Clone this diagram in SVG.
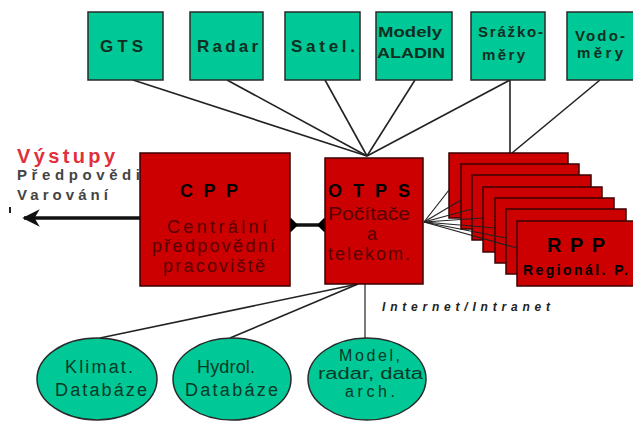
<svg xmlns="http://www.w3.org/2000/svg" width="633" height="421" viewBox="0 0 633 421">
<style>
  .g { fill:#00c896; stroke:#2a2a2a; stroke-width:1.5; }
  .r { fill:#cc0000; stroke:#3a0000; stroke-width:1.5; }
  .ln { stroke:#222; stroke-width:1.6; fill:none; }
  .ln1 { stroke:#222; stroke-width:1.2; fill:none; }
  .t { font-family:"Liberation Sans", Arial, sans-serif; font-weight:bold; }
  .tg { fill:#0e2f22; }
  .tk { fill:#000; }
  .dr { fill:#560000; font-weight:normal; }
  .tn { font-family:"Liberation Sans", Arial, sans-serif; fill:#063a26; }
</style>
<defs>
  <marker id="dia" viewBox="0 0 10 10" refX="5" refY="5" markerWidth="4" markerHeight="4" orient="auto">
    <path d="M0,5 L5,0 L10,5 L5,10 Z" fill="#000"/>
  </marker>
  <marker id="arr" viewBox="0 0 10 10" refX="9" refY="5" markerWidth="7" markerHeight="5" orient="auto" markerUnits="strokeWidth">
    <path d="M0,0 L10,5 L0,10 L3,5 Z" fill="#111"/>
  </marker>
</defs>
<rect width="633" height="421" fill="#ffffff"/>

<g id="connectors">
  <line class="ln" x1="133" y1="80" x2="367" y2="156"/>
  <line class="ln" x1="227" y1="80" x2="367" y2="156"/>
  <line class="ln" x1="325" y1="80" x2="367" y2="156"/>
  <line class="ln" x1="415" y1="80" x2="367" y2="156"/>
  <line class="ln" x1="510" y1="80" x2="367" y2="156"/>
  <line class="ln" x1="510" y1="80" x2="510" y2="153"/>
  <line class="ln" x1="600" y1="80" x2="512" y2="153"/>
  <line x1="140" y1="218" x2="24" y2="218" stroke="#111" stroke-width="3.5" marker-end="url(#arr)"/>
  <line x1="291" y1="225" x2="324" y2="225" stroke="#111" stroke-width="3.5" marker-start="url(#dia)" marker-end="url(#dia)"/>
  <line class="ln" x1="358" y1="284" x2="100" y2="338"/>
  <line class="ln" x1="358" y1="284" x2="230" y2="338"/>
  <line class="ln1" x1="365" y1="284" x2="365" y2="339"/>
  <rect x="9" y="207" width="2" height="6" fill="#222"/>
</g>

<g id="gts"><rect class="g" x="88" y="12" width="75" height="68"/><text class="t tg" x="100" y="52" font-size="17" textLength="43" lengthAdjust="spacing">GTS</text></g>
<g id="radar"><rect class="g" x="190" y="12" width="73" height="68"/><text class="t tg" x="197" y="52" font-size="17" textLength="61" lengthAdjust="spacing">Radar</text></g>
<g id="satel"><rect class="g" x="285" y="12" width="75" height="68"/><text class="t tg" x="291" y="52" font-size="17" textLength="64" lengthAdjust="spacing">Satel.</text></g>
<g id="modely"><rect class="g" x="376" y="12" width="76" height="68"/><text class="t tg" x="378" y="37" font-size="15" textLength="64" lengthAdjust="spacingAndGlyphs">Modely</text><text class="t tg" x="377" y="58" font-size="15" textLength="68" lengthAdjust="spacingAndGlyphs">ALADIN</text></g>
<g id="srazkomery"><rect class="g" x="471" y="12" width="74" height="68"/><text class="t tg" x="478" y="37" font-size="15" textLength="65" lengthAdjust="spacing">Srážko-</text><text class="t tg" x="482" y="60" font-size="15" textLength="43" lengthAdjust="spacing">měry</text></g>
<g id="vodomery"><rect class="g" x="567" y="12" width="70" height="68"/><text class="t tg" x="575" y="41" font-size="15" textLength="50" lengthAdjust="spacing">Vodo-</text><text class="t tg" x="577" y="58" font-size="15" textLength="46" lengthAdjust="spacing">měry</text></g>

<g id="vystupy">
  <text class="t" x="17" y="163" fill="#e0303a" font-size="20" textLength="98" lengthAdjust="spacing">Výstupy</text>
  <text class="t" x="17" y="180" fill="#444" font-size="15" textLength="123" lengthAdjust="spacing">Předpovědi</text>
  <text class="t" x="17" y="200" fill="#444" font-size="15" textLength="91" lengthAdjust="spacing">Varování</text>
</g>

<g id="cpp">
  <rect class="r" x="140" y="153" width="150" height="133"/>
  <text class="t tk" x="180" y="197" font-size="18" textLength="58" lengthAdjust="spacing">CPP</text>
  <text class="t dr" x="167" y="233" font-size="18" textLength="100" lengthAdjust="spacing">Centrální</text>
  <text class="t dr" x="152" y="252" font-size="18" textLength="123" lengthAdjust="spacing">předpovědní</text>
  <text class="t dr" x="163" y="272" font-size="18" textLength="102" lengthAdjust="spacing">pracoviště</text>
</g>

<g id="otps">
  <rect class="r" x="325" y="158" width="98" height="126"/>
  <text class="t tk" x="328" y="197" font-size="18" textLength="82" lengthAdjust="spacing">OTPS</text>
  <text class="t dr" x="328" y="220" font-size="18" textLength="82" lengthAdjust="spacingAndGlyphs">Počítače</text>
  <text class="t dr" x="372" y="240" font-size="18" text-anchor="middle">a</text>
  <text class="t dr" x="328" y="260" font-size="18" textLength="82" lengthAdjust="spacing">telekom.</text>
</g>

<g id="rpp">
  <rect class="r" x="449" y="153" width="119" height="65"/>
  <rect class="r" x="461" y="164" width="118" height="65"/>
  <rect class="r" x="472" y="175" width="119" height="65"/>
  <rect class="r" x="483" y="187" width="119" height="65"/>
  <rect class="r" x="495" y="198" width="119" height="65"/>
  <rect class="r" x="506" y="209" width="120" height="65"/>
  <rect class="r" x="517" y="221" width="119" height="65"/>
  <g class="ln1">
    <line x1="424" y1="222" x2="449" y2="190"/>
    <line x1="424" y1="222" x2="461" y2="200"/>
    <line x1="424" y1="222" x2="472" y2="209"/>
    <line x1="424" y1="222" x2="483" y2="218"/>
    <line x1="424" y1="222" x2="495" y2="228"/>
    <line x1="424" y1="222" x2="506" y2="238"/>
    <line x1="424" y1="222" x2="517" y2="248"/>
  </g>
  <text class="t tk" x="547" y="252" font-size="20" textLength="58" lengthAdjust="spacing">RPP</text>
  <text class="t tk" x="523" y="275" font-size="14" textLength="105" lengthAdjust="spacing">Regionál. P.</text>
</g>

<text class="t" x="382" y="311" font-size="12" font-style="italic" fill="#222" textLength="168" lengthAdjust="spacing">Internet/Intranet</text>

<g id="klimat">
  <ellipse class="g" cx="97" cy="379" rx="60" ry="41"/>
  <text class="tn" x="65" y="373" font-size="18" textLength="68" lengthAdjust="spacing">Klimat.</text>
  <text class="tn" x="55" y="396" font-size="18" textLength="92" lengthAdjust="spacing">Databáze</text>
</g>
<g id="hydrol">
  <ellipse class="g" cx="232" cy="379" rx="59" ry="41"/>
  <text class="tn" x="197" y="373" font-size="18" textLength="58" lengthAdjust="spacing">Hydrol.</text>
  <text class="tn" x="185" y="396" font-size="18" textLength="93" lengthAdjust="spacing">Databáze</text>
</g>
<g id="model">
  <ellipse class="g" cx="367" cy="379" rx="59" ry="41"/>
  <text class="tn" x="339" y="361" font-size="16" textLength="61" lengthAdjust="spacing">Model,</text>
  <text class="tn" x="318" y="379" font-size="16" textLength="105" lengthAdjust="spacingAndGlyphs">radar, data</text>
  <text class="tn" x="345" y="397" font-size="16" textLength="50" lengthAdjust="spacing">arch.</text>
</g>
</svg>
